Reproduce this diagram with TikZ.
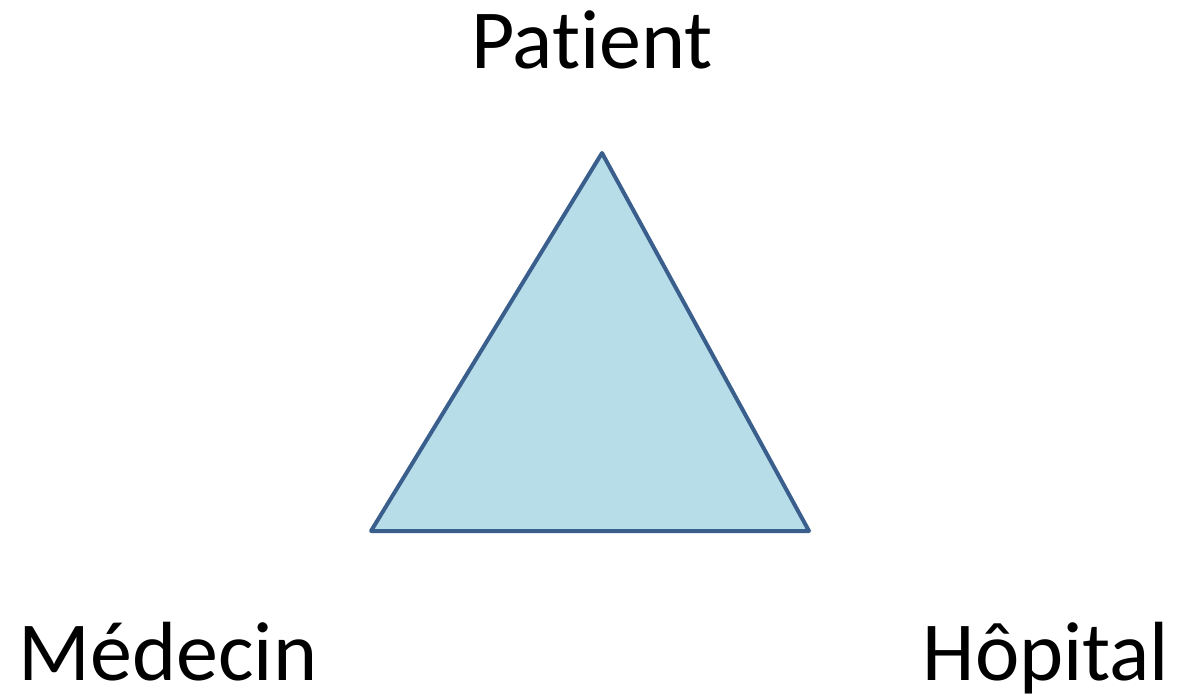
\documentclass[tikz,border=0pt]{standalone}
\usepackage{fontspec}
\setmainfont[Ligatures={NoCommon}]{Carlito}
\usetikzlibrary{positioning}

\definecolor{triFill}{HTML}{B7DDE8}
\definecolor{triLine}{HTML}{3A5F8C}

\begin{document}
\begin{tikzpicture}[
    x=0.5pt, y=-0.5pt,
    corner/.style={anchor=base, font=\fontsize{42}{50}\selectfont, inner sep=0pt},
    tri/.style={draw=triLine, fill=triFill, line width=2pt, line join=round}
]
\useasboundingbox (0,0) rectangle (1177,696);

% Triangle
\coordinate (top) at (602,153);
\coordinate (left) at (371,531);
\coordinate (right) at (809,531);
\draw[tri] (top) -- (right) -- (left) -- cycle;

% Labels
\node[corner] (patient) at (592,68) {Patient};
\node[corner] (medecin) at (168,680) {Médecin};
\node[corner] (hopital) at (1046,680) {Hôpital};

\end{tikzpicture}
\end{document}
